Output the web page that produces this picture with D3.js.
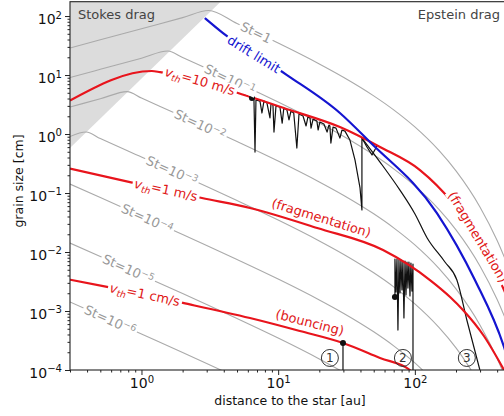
<!DOCTYPE html>
<meta charset="utf-8">
<script src="https://d3js.org/d3.v7.min.js"></script>
<style>
body { margin: 0; background: #fff; }
text { font-family: "DejaVu Sans", sans-serif; }
.axis path { display: none; }
.axis line { stroke: #222; }
.axis text { font-size: 14px; fill: #111; }
</style>
<body></body>
<script>

// ---- data (distance in au, grain size in cm) ----
var xDomain = [0.3, 500];
var yDomain = [1e-4, 175];
var xTicks = [1, 10, 100];
var yTicks = [1e-4, 1e-3, 1e-2, 1e-1, 1, 10, 100];

// Stokes / Epstein boundary (shaded above)
var stokesEdge = [[0.3, 0.58], [5, 325]];

// lines of constant Stokes number
var st0 = [[0.3,28.7],[0.5,39.5],[1,61.0],[2,94.0],[3.1,124],[5,74.6],[10,34.8],[20,15.4],[30,9.18],[50,4.44],[70,2.57],[100,1.32],[150,0.527],[200,0.237],[300,0.0575],[400,0.0157],[500,0.0046]];
var st1 = [[0.3,9.08],[0.5,12.5],[1,19.3],[1.56,25.5],[2,19.8],[3,12.9],[5,7.46],[10,3.48],[20,1.54],[30,0.918],[50,0.444],[70,0.257],[100,0.132],[150,0.0527],[200,0.0237],[300,0.00575],[400,0.00157],[500,0.00046]];
var st2 = [[0.3,2.87],[0.5,3.95],[0.786,5.24],[1,4.07],[2,1.98],[3,1.29],[5,0.746],[10,0.348],[20,0.154],[30,0.0918],[50,0.0444],[70,0.0257],[100,0.0132],[150,0.00527],[200,0.00237],[300,0.000575],[400,0.000157],[500,0.000046]];
var st3 = [[0.3,0.908],[0.394,1.08],[0.5,0.836],[1,0.407],[2,0.198],[3,0.129],[5,0.0746],[10,0.0348],[20,0.0154],[30,0.00918],[50,0.00444],[70,0.00257],[100,0.00132],[150,0.000527],[200,0.000237],[300,0.0000575]];
var st4 = [[0.3,0.142],[0.5,0.0836],[1,0.0407],[2,0.0198],[3,0.0129],[5,0.00746],[10,0.00348],[20,0.00154],[30,0.000918],[50,0.000444],[70,0.000257],[100,0.000132],[150,0.0000527]];
var st5 = [[0.3,0.0142],[0.5,0.00836],[1,0.00407],[2,0.00198],[3,0.00129],[5,0.000746],[10,0.000348],[20,0.000154],[30,0.0000918]];
var st6 = [[0.3,0.00142],[0.5,0.000836],[1,0.000407],[2,0.000198],[3,0.000129],[5,0.0000746]];

// growth limits
var frag10 = [[0.3,3.7],[1.19,11.7],[1.37,11.2],[5.08,4.96],[12.2,2.55],[28.3,1.31],[55.6,0.603],[109,0.245],[190,0.0676],[299,0.016],[449,0.00227],[500,0.0013]];
var frag1 = [[0.3,0.26],[0.824,0.153],[2.77,0.0822],[6.22,0.0557],[19.3,0.0255],[58.5,0.0108],[129,0.00335],[181,0.00173],[225,0.00104],[320,0.000377],[449,0.0001]];
var bounce = [[0.3,0.0034],[0.56,0.00256],[2.01,0.00137],[6.22,0.00076],[14.4,0.000458],[29.8,0.000287],[55.6,0.00016],[92,0.0001],[109,0.000056]];
var drift = [[2.91,92.5],[3.95,51.5],[11.6,10],[28.3,2.27],[46.9,0.731],[145,0.0458],[275,0.00335],[449,0.000246],[500,0.00011]];

// particle tracks
var track1 = [[29.8,0.000287],[29.8,0.0001]];
var track2 = [[71.5,0.00173],[71.5,0.00761],[72.7,0.0021],[74.0,0.00761],[75.2,0.000476],[76.5,0.00732],[77.8,0.00202],[79.1,0.00732],[80.5,0.00227],[81.8,0.00704],[83.2,0.000761],[84.7,0.00704],[86.1,0.00187],[87.6,0.00677],[89.0,0.00245],[90.5,0.00677],[92.1,0.0018],[93.6,0.00651],[95.2,0.00218],[96.9,0.00626],[96.9,0.0001]];
var track3 = [[6.43,4.08],[6.65,3.92],[6.77,0.495],[6.88,3.77],[7.36,3.62],[7.61,2.27],[7.87,3.62],[8.28,3.35],[8.71,1.87],[8.86,3.22],[9.16,3.10],[9.32,1.08],[9.64,2.98],[10.3,2.87],[10.7,1.53],[11.0,2.76],[11.6,2.55],[12.0,1.73],[12.4,2.45],[13.0,2.27],[13.7,0.579],[14.2,2.18],[15.2,2.02],[16.0,1.37],[16.5,1.94],[17.1,1.87],[17.4,1.26],[18.0,1.79],[19.2,1.66],[19.6,1.17],[20.2,1.60],[21.6,1.48],[22.8,1.08],[23.5,1.42],[23.9,1.37],[24.3,0.703],[25.2,1.31],[26.5,1.26],[28.3,0.855],[29.3,1.17],[30.8,1.12],[33.5,0.791],[36.5,0.362],[39.7,0.122],[41.0,0.0515],[41.0,0.855],[44.6,0.603],[48.6,0.441],[52.8,0.627]];
var track3tail = [[41.0,0.855],[55.6,0.335],[77.8,0.112],[100.2,0.0441],[123,0.0173],[166,0.00677],[203,0.00335],[240,0.000704],[299,0.0001]];
var trackStarts = [[6.43,4.08],[71.5,0.00173],[29.8,0.000287]];

// numbered markers
var markers = [{n: "1", r: 23.9, a: 0.00016}, {n: "2", r: 81.8, a: 0.00016}, {n: "3", r: 240, a: 0.00016}];

// ---- chart ----
var W = 504, H = 416;
var svg = d3.select("body").append("svg").attr("width", W).attr("height", H);

var x = d3.scaleLog().domain(xDomain).range([70, 510.4]);
var y = d3.scaleLog().domain(yDomain).range([370, 1.7]);

svg.append("clipPath").attr("id", "clip").append("rect")
    .attr("x", 70).attr("y", 1.7).attr("width", 440.4).attr("height", 368.3);

var plot = svg.append("g").attr("clip-path", "url(#clip)");

var lin = d3.line().x(function(d) { return x(d[0]); }).y(function(d) { return y(d[1]); });
var smooth = d3.line().x(function(d) { return x(d[0]); }).y(function(d) { return y(d[1]); })
    .curve(d3.curveMonotoneX);

// Stokes regime shading
var shade = stokesEdge.concat([[stokesEdge[0][0], stokesEdge[1][1]]]);
plot.append("path").attr("d", lin(shade) + "Z").attr("fill", "#dcdcdc");

var stLines = [st0, st1, st2, st3, st4, st5, st6];
var paths = {};
stLines.forEach(function(s, i) {
  paths["st" + i] = plot.append("path").attr("d", smooth(s))
      .attr("fill", "none").attr("stroke", "#aaa").attr("stroke-width", 1.1).node();
});

// tracks (under the limits)
[track2, track3].forEach(function(t) {
  plot.append("path").attr("d", lin(t)).attr("fill", "none")
      .attr("stroke", "#111").attr("stroke-width", 1.2).attr("stroke-linejoin", "round");
});
plot.append("path").attr("d", smooth(track3tail)).attr("fill", "none")
    .attr("stroke", "#111").attr("stroke-width", 1.2);
plot.append("path").attr("d", lin(track1)).attr("fill", "none")
    .attr("stroke", "#111").attr("stroke-width", 1.2);

[["frag10", frag10], ["frag1", frag1], ["bounce", bounce]].forEach(function(p) {
  paths[p[0]] = plot.append("path").attr("d", smooth(p[1]))
      .attr("fill", "none").attr("stroke", "#e8141c").attr("stroke-width", 2.2).node();
});
paths.drift = plot.append("path").attr("d", smooth(drift))
    .attr("fill", "none").attr("stroke", "#1515d0").attr("stroke-width", 2.2).node();

plot.selectAll(".start").data(trackStarts).enter().append("circle")
    .attr("cx", function(d) { return x(d[0]); })
    .attr("cy", function(d) { return y(d[1]); })
    .attr("r", 3).attr("fill", "#111");

// ---- curve labels ----
function lengthAtX(node, px) {
  var lo = 0, hi = node.getTotalLength();
  for (var i = 0; i < 40; i++) {
    var mid = (lo + hi) / 2;
    if (node.getPointAtLength(mid).x < px) lo = mid; else hi = mid;
  }
  return lo;
}

var grey = "#999", red = "#e01818", blue = "#1515d0";
function stText(e) { return [["St=10", ""], [e, "sup"]]; }
var labels = [
  {curve: "st0", r: 6.9, parts: [["St=1", ""]], color: grey, off: 0},
  {curve: "st1", r: 4.44, parts: stText("\u22121"), color: grey, off: 0},
  {curve: "st2", r: 2.68, parts: stText("\u22122"), color: grey, off: 0},
  {curve: "st3", r: 1.67, parts: stText("\u22123"), color: grey, off: 0},
  {curve: "st4", r: 1.10, parts: stText("\u22124"), color: grey, off: 0},
  {curve: "st5", r: 0.80, parts: stText("\u22125"), color: grey, off: 0},
  {curve: "st6", r: 0.59, parts: stText("\u22126"), color: grey, off: 0},
  {curve: "drift", r: 6.65, parts: [["drift limit", ""]], color: blue, off: 0},
  {curve: "frag10", r: 2.68, parts: [["v", "it"], ["th", "sub"], ["=10 m/s", "back"]], color: red, off: 0},
  {curve: "frag1", r: 1.51, parts: [["v", "it"], ["th", "sub"], ["=1 m/s", "back"]], color: red, off: 0},
  {curve: "bounce", r: 1.06, parts: [["v", "it"], ["th", "sub"], ["=1 cm/s", "back"]], color: red, off: 0},
  {curve: "frag1", r: 19.6, parts: [["(fragmentation)", ""]], color: red, off: 11},
  {curve: "frag10", r: 290, parts: [["(fragmentation)", ""]], color: red, off: 0},
  {curve: "bounce", r: 16.3, parts: [["(bouncing)", ""]], color: red, off: 11}
];

var labelG = svg.append("g").attr("clip-path", "url(#clip)");
labels.forEach(function(l) {
  var node = paths[l.curve];
  var L = lengthAtX(node, x(l.r));
  var p = node.getPointAtLength(L),
      p1 = node.getPointAtLength(Math.max(0, L - 5)),
      p2 = node.getPointAtLength(L + 5);
  var ang = Math.atan2(p2.y - p1.y, p2.x - p1.x);
  var cx = p.x + Math.sin(ang) * l.off,
      cy = p.y - Math.cos(ang) * l.off;
  var g = labelG.append("g")
      .attr("transform", "translate(" + cx + "," + cy + ") rotate(" + (ang * 180 / Math.PI) + ")");
  var t = g.append("text")
      .attr("text-anchor", "middle").attr("dy", "0.36em")
      .attr("font-size", 13).attr("fill", l.color);
  l.parts.forEach(function(q) {
    var s = t.append("tspan").text(q[0]);
    if (q[1] === "sup") s.attr("dy", "-0.45em").attr("font-size", "0.72em");
    if (q[1] === "sub") s.attr("dy", "0.3em").attr("font-size", "0.7em").attr("font-style", "italic");
    if (q[1] === "back") s.attr("dy", "-0.25em");
    if (q[1] === "it") s.attr("font-style", "italic");
  });
  if (l.off === 0) {
    // break the curve under an inline label
    var b = t.node().getBBox();
    g.insert("rect", "text")
        .attr("x", b.x - 2).attr("y", b.y + 1)
        .attr("width", b.width + 4).attr("height", b.height - 2)
        .attr("fill", "#fff");
  }
});

// numbered circles
var mk = svg.append("g").selectAll("g").data(markers).enter().append("g")
    .attr("transform", function(d) { return "translate(" + x(d.r) + "," + y(d.a) + ")"; });
mk.append("circle").attr("r", 8.5).attr("fill", "none").attr("stroke", "#333").attr("stroke-width", 1);
mk.append("text").attr("text-anchor", "middle").attr("dy", "0.36em")
    .attr("font-size", 12).attr("fill", "#333").text(function(d) { return d.n; });

// regime captions
svg.append("text").attr("x", 78).attr("y", 19).attr("font-size", 13).attr("fill", "#444").text("Stokes drag");
svg.append("text").attr("x", 500).attr("y", 19).attr("text-anchor", "end")
    .attr("font-size", 13).attr("fill", "#444").text("Epstein drag");

// ---- axes ----
function powLabel(sel) {
  sel.each(function(d) {
    var t = d3.select(this), e = Math.round(Math.log10(d));
    t.text("10");
    t.append("tspan").attr("dy", "-0.5em").attr("font-size", "0.72em")
      .text(e < 0 ? "\u2212" + (-e) : String(e));
  });
}
function minorOf(scale, majors) {
  return scale.ticks().filter(function(v) {
    return majors.indexOf(v) < 0 && Math.abs(Math.log10(v) - Math.round(Math.log10(v))) > 1e-6;
  });
}

var gy = svg.append("g").attr("class", "axis").attr("transform", "translate(70,0)")
    .call(d3.axisLeft(y).tickValues(yTicks).tickSize(5).tickPadding(3).tickFormat(""));
gy.selectAll(".tick text").attr("dy", "0.5em").call(powLabel);
svg.append("g").attr("class", "axis").attr("transform", "translate(70,0)")
    .call(d3.axisLeft(y).tickValues(minorOf(y, yTicks)).tickSize(2.5).tickFormat(""));

var gx = svg.append("g").attr("class", "axis").attr("transform", "translate(0,370)")
    .call(d3.axisBottom(x).tickValues(xTicks).tickSize(5).tickPadding(3).tickFormat(""));
gx.selectAll(".tick text").attr("y", 18).attr("dy", 0).call(powLabel);
svg.append("g").attr("class", "axis").attr("transform", "translate(0,370)")
    .call(d3.axisBottom(x).tickValues(minorOf(x, xTicks)).tickSize(2.5).tickFormat(""));

// frame
svg.append("rect").attr("x", 70).attr("y", 1.7).attr("width", 440.4).attr("height", 368.3)
    .attr("fill", "none").attr("stroke", "#222").attr("stroke-width", 1.1);

svg.append("text").attr("transform", "translate(23,181) rotate(-90)")
    .attr("text-anchor", "middle").attr("font-size", 12.5).attr("fill", "#111").text("grain size [cm]");
svg.append("text").attr("x", 290).attr("y", 405)
    .attr("text-anchor", "middle").attr("font-size", 12.5).attr("fill", "#111").text("distance to the star [au]");

</script>
